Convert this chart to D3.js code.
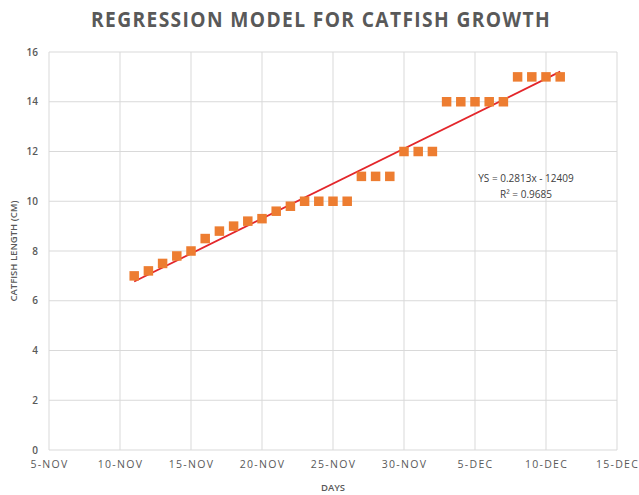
<!DOCTYPE html>
<html>
<head>
<meta charset="utf-8">
<script src="https://cdn.jsdelivr.net/npm/d3@7"></script>
<style>
  body { margin: 0; background: #fff; }
  text { font-family: "Open Sans", "DejaVu Sans", sans-serif; fill: #595959; }
</style>
</head>
<body>
<div id="chart"></div>
<script>
// data
var days = ["2017-11-11","2017-11-12","2017-11-13","2017-11-14","2017-11-15","2017-11-16",
  "2017-11-17","2017-11-18","2017-11-19","2017-11-20","2017-11-21","2017-11-22","2017-11-23",
  "2017-11-24","2017-11-25","2017-11-26","2017-11-27","2017-11-28","2017-11-29","2017-11-30",
  "2017-12-01","2017-12-02","2017-12-03","2017-12-04","2017-12-05","2017-12-06","2017-12-07",
  "2017-12-08","2017-12-09","2017-12-10","2017-12-11"];
var lengths = [7, 7.2, 7.5, 7.8, 8, 8.5, 8.8, 9, 9.2, 9.3, 9.6, 9.8, 10, 10, 10, 10,
  11, 11, 11, 12, 12, 12, 14, 14, 14, 14, 14, 15, 15, 15, 15];
var xTickDays = ["2017-11-05","2017-11-10","2017-11-15","2017-11-20","2017-11-25",
  "2017-11-30","2017-12-05","2017-12-10","2017-12-15"];
var xTickLabels = ["5-NOV","10-NOV","15-NOV","20-NOV","25-NOV","30-NOV","5-DEC","10-DEC","15-DEC"];
var yTicks = [0, 2, 4, 6, 8, 10, 12, 14, 16];
var equationLines = ["YS = 0.2813x - 12409", "R\u00b2 = 0.9685"];

var W = 639, H = 495;
var margin = {top: 52, right: 22, bottom: 45, left: 49};
var width = W - margin.left - margin.right,
    height = H - margin.top - margin.bottom;

var parse = d3.utcParse("%Y-%m-%d");
var data = days.map(function(d, i) { return {day: parse(d), len: lengths[i]}; });

var svg = d3.select("#chart").append("svg")
    .attr("width", W)
    .attr("height", H);

var g = svg.append("g")
    .attr("transform", "translate(" + margin.left + "," + margin.top + ")");

var x = d3.scaleUtc()
    .domain([parse(xTickDays[0]), parse(xTickDays[xTickDays.length - 1])])
    .range([0, width]);
var y = d3.scaleLinear()
    .domain([0, 16])
    .range([height, 0]);

// gridlines
g.append("g")
  .selectAll("line.h")
  .data(yTicks)
  .enter().append("line")
    .attr("x1", 0).attr("x2", width)
    .attr("y1", function(d) { return y(d); })
    .attr("y2", function(d) { return y(d); })
    .attr("stroke", "#d9d9d9").attr("stroke-width", 1);

g.append("g")
  .selectAll("line.v")
  .data(xTickDays)
  .enter().append("line")
    .attr("y1", 0).attr("y2", height)
    .attr("x1", function(d) { return x(parse(d)); })
    .attr("x2", function(d) { return x(parse(d)); })
    .attr("stroke", "#d9d9d9").attr("stroke-width", 1);

// y axis labels
var yAxis = g.append("g")
    .call(d3.axisLeft(y).tickValues(yTicks).tickSize(0).tickPadding(11));
yAxis.select(".domain").remove();
yAxis.selectAll("text")
    .style("font-size", "10px")
    .style("font-weight", "600")
    .attr("fill", "#595959");

// x axis labels
var xAxis = g.append("g")
    .attr("transform", "translate(0," + height + ")")
    .call(d3.axisBottom(x)
      .tickValues(xTickDays.map(parse))
      .tickFormat(function(d, i) { return xTickLabels[i]; })
      .tickSize(0).tickPadding(11));
xAxis.select(".domain").remove();
xAxis.selectAll("text")
    .style("font-size", "10.5px")
    .style("letter-spacing", "1.3px")
    .attr("fill", "#595959");

// linear trendline (least squares)
var xs = data.map(function(d) { return (d.day - data[0].day) / 864e5; });
var mx = d3.mean(xs), my = d3.mean(lengths);
var slope = d3.sum(xs, function(v, i) { return (v - mx) * (lengths[i] - my); }) /
            d3.sum(xs, function(v) { return (v - mx) * (v - mx); });
var icpt = my - slope * mx;
var first = data[0].day, last = data[data.length - 1].day;

g.append("line")
    .attr("x1", x(first)).attr("y1", y(icpt))
    .attr("x2", x(last)).attr("y2", y(icpt + slope * xs[xs.length - 1]))
    .attr("stroke", "#e3262b")
    .attr("stroke-width", 1.8);

// points
var s = 9.5;
g.selectAll(".pt")
    .data(data)
  .enter().append("rect")
    .attr("class", "pt")
    .attr("x", function(d) { return x(d.day) - s / 2; })
    .attr("y", function(d) { return y(d.len) - s / 2; })
    .attr("width", s)
    .attr("height", s)
    .attr("fill", "#ed7d31");

// equation label
svg.append("g").selectAll("text")
    .data(equationLines)
  .enter().append("text")
    .attr("x", 526)
    .attr("y", function(d, i) { return 182 + i * 16; })
    .attr("text-anchor", "middle")
    .style("font-size", "10px")
    .style("fill", "#404040")
    .text(function(d) { return d; });

// title
svg.append("text")
    .attr("x", 321)
    .attr("y", 27)
    .attr("text-anchor", "middle")
    .attr("textLength", 460)
    .attr("lengthAdjust", "spacingAndGlyphs")
    .style("font-size", "21px")
    .style("font-weight", "700")
    .style("letter-spacing", "1.5px")
    .text("REGRESSION MODEL FOR CATFISH GROWTH");

// axis titles
svg.append("text")
    .attr("transform", "translate(17," + (margin.top + height / 2) + ") rotate(-90)")
    .attr("text-anchor", "middle")
    .style("font-size", "9.5px")
    .style("font-weight", "600")
    .text("CATFISH LENGTH (CM)");

svg.append("text")
    .attr("x", margin.left + width / 2)
    .attr("y", 491)
    .attr("text-anchor", "middle")
    .style("font-size", "9.5px")
    .style("font-weight", "600")
    .text("DAYS");
</script>
</body>
</html>
